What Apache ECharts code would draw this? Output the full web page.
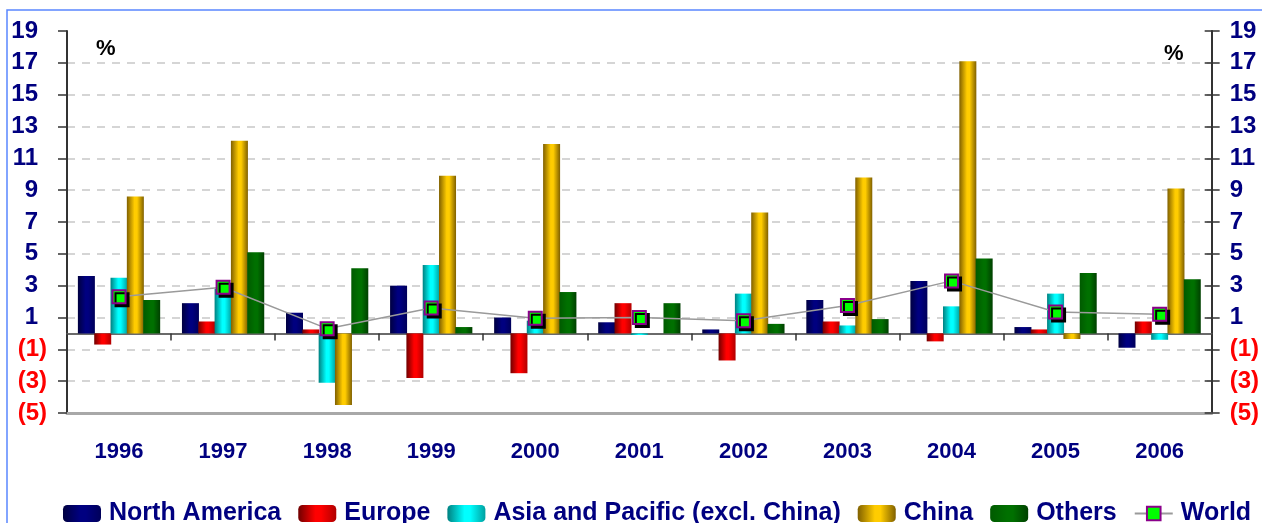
<!DOCTYPE html>
<html>
<head>
<meta charset="utf-8">
<script src="https://cdn.jsdelivr.net/npm/echarts@6/dist/echarts.min.js"></script>
<style>
  html, body { margin: 0; padding: 0; background: #fff; }
  #chart { width: 1262px; height: 523px; }
</style>
</head>
<body>
<div id="chart"></div>
<script>
// years and growth rates (%)
var years = ['1996', '1997', '1998', '1999', '2000', '2001', '2002', '2003', '2004', '2005', '2006'];
var northAmerica = [3.6, 1.9, 1.3, 3.0, 1.0, 0.7, 0.25, 2.1, 3.3, 0.4, -0.9];
var europe = [-0.7, 0.75, 0.25, -2.8, -2.5, 1.9, -1.7, 0.75, -0.5, 0.25, 0.75];
var asiaPacific = [3.5, 2.8, -3.1, 4.3, 0.8, -0.1, 2.5, 0.5, 1.7, 2.5, -0.4];
var china = [8.6, 12.1, -4.5, 9.9, 11.9, null, 7.6, 9.8, 17.1, -0.35, 9.1];
var others = [2.1, 5.1, 4.1, 0.4, 2.6, 1.9, 0.6, 0.9, 4.7, 3.8, 3.4];
var world = [2.3, 2.9, 0.3, 1.6, 0.95, 1.0, 0.8, 1.75, 3.3, 1.35, 1.2];

var FONT = '"Liberation Sans", Arial, sans-serif';
var NAVY = '#000080';

// cylinder-like shading: dark edges, bright middle
function shade(dark, light, edge) {
  return new echarts.graphic.LinearGradient(0, 0, 1, 0, [
    { offset: 0, color: edge || dark },
    { offset: 0.45, color: light },
    { offset: 0.6, color: light },
    { offset: 1, color: dark }
  ]);
}

function yLabel(v) {
  if (v < 0) return '{n|(' + (-v) + ')}';
  return '{p|' + v + '}';
}

function barSeries(name, data, color) {
  return {
    name: name,
    type: 'bar',
    xAxisIndex: 0,
    yAxisIndex: 0,
    barWidth: 17,
    barGap: '-4%',
    itemStyle: { color: color },
    data: data
  };
}

var splitColors = [];
for (var i = 0; i < 12; i++) splitColors.push('#c8c8c8');
splitColors.push('transparent');

var chart = echarts.init(document.getElementById('chart'));
chart.setOption({
  animation: false,
  textStyle: { fontFamily: FONT },
  grid: { left: 67, right: 47, top: 31, bottom: 110, containLabel: false },
  legend: {
    top: 496,
    left: 58,
    itemWidth: 38,
    itemHeight: 17,
    itemGap: 17,
    textStyle: { fontFamily: FONT, fontSize: 25, fontWeight: 'bold', color: NAVY, padding: [0, 0, 0, 3] },
    data: ['North America', 'Europe', 'Asia and Pacific (excl. China)', 'China', 'Others', 'World']
  },
  xAxis: [
    {
      type: 'category',
      data: years,
      position: 'bottom',
      axisLine: { onZero: false, lineStyle: { color: '#a8a8a8', width: 3 } },
      axisTick: { show: false },
      axisLabel: { margin: 28, fontSize: 22, fontWeight: 'bold', color: NAVY, fontFamily: FONT }
    },
    {
      type: 'category',
      data: years,
      position: 'bottom',
      axisLine: { onZero: true, lineStyle: { color: '#6a6a6a', width: 2 } },
      axisTick: { show: true, length: 7, lineStyle: { color: '#333', width: 1.5 } },
      axisLabel: { show: false }
    }
  ],
  yAxis: [
    {
      type: 'value', min: -5, max: 19, interval: 2, position: 'left',
      axisLine: { show: true, lineStyle: { color: '#333', width: 2 } },
      axisTick: { show: true, length: 9, lineStyle: { color: '#333', width: 1.5 } },
      splitLine: { show: true, lineStyle: { color: splitColors, type: [8, 7], width: 1.5 } },
      axisLabel: {
        margin: 20, formatter: yLabel,
        rich: {
          p: { fontSize: 24, fontWeight: 'bold', color: NAVY, fontFamily: FONT, padding: [0, 9, 0, 0] },
          n: { fontSize: 24, fontWeight: 'bold', color: '#ff0000', fontFamily: FONT }
        }
      }
    },
    {
      type: 'value', min: -5, max: 19, interval: 2, position: 'right',
      axisLine: { show: true, lineStyle: { color: '#333', width: 2 } },
      axisTick: { show: true, length: 8, lineStyle: { color: '#333', width: 1.5 } },
      splitLine: { show: false },
      axisLabel: {
        margin: 18, formatter: yLabel,
        rich: {
          p: { fontSize: 24, fontWeight: 'bold', color: NAVY, fontFamily: FONT },
          n: { fontSize: 24, fontWeight: 'bold', color: '#ff0000', fontFamily: FONT }
        }
      }
    },
    {
      type: 'value', min: -5, max: 19, interval: 2, position: 'right',
      axisLine: { show: false },
      axisTick: { show: true, inside: true, length: 7, lineStyle: { color: '#333', width: 1.5 } },
      splitLine: { show: false },
      axisLabel: { show: false }
    }
  ],
  graphic: [
    { type: 'rect', shape: { x: 7, y: 10, width: 1400, height: 700 }, style: { fill: null, stroke: '#5a86ff', lineWidth: 1.5 }, silent: true },
    { type: 'text', left: 96, top: 38, style: { text: '%', font: 'bold 22px ' + FONT, fill: '#000' } },
    { type: 'text', left: 1164, top: 43, style: { text: '%', font: 'bold 22px ' + FONT, fill: '#000' } }
  ],
  series: [
    barSeries('North America', northAmerica, shade('#00005a', '#000080', '#000040')),
    barSeries('Europe', europe, shade('#b00000', '#ff0000', '#700000')),
    barSeries('Asia and Pacific (excl. China)', asiaPacific, shade('#00a0a0', '#00ffff', '#008080')),
    barSeries('China', china, shade('#806000', '#ffcc00', '#806000')),
    barSeries('Others', others, shade('#004000', '#007000', '#005a00')),
    {
      name: 'World',
      type: 'line',
      xAxisIndex: 0,
      yAxisIndex: 0,
      z: 5,
      symbol: 'rect',
      symbolSize: 13,
      lineStyle: { color: '#9a9a9a', width: 1.5 },
      itemStyle: {
        color: '#00ff00', borderColor: '#8b008b', borderWidth: 2,
        shadowColor: '#000', shadowOffsetX: 3, shadowOffsetY: 3, shadowBlur: 0
      },
      data: world
    }
  ]
});
</script>
</body>
</html>
